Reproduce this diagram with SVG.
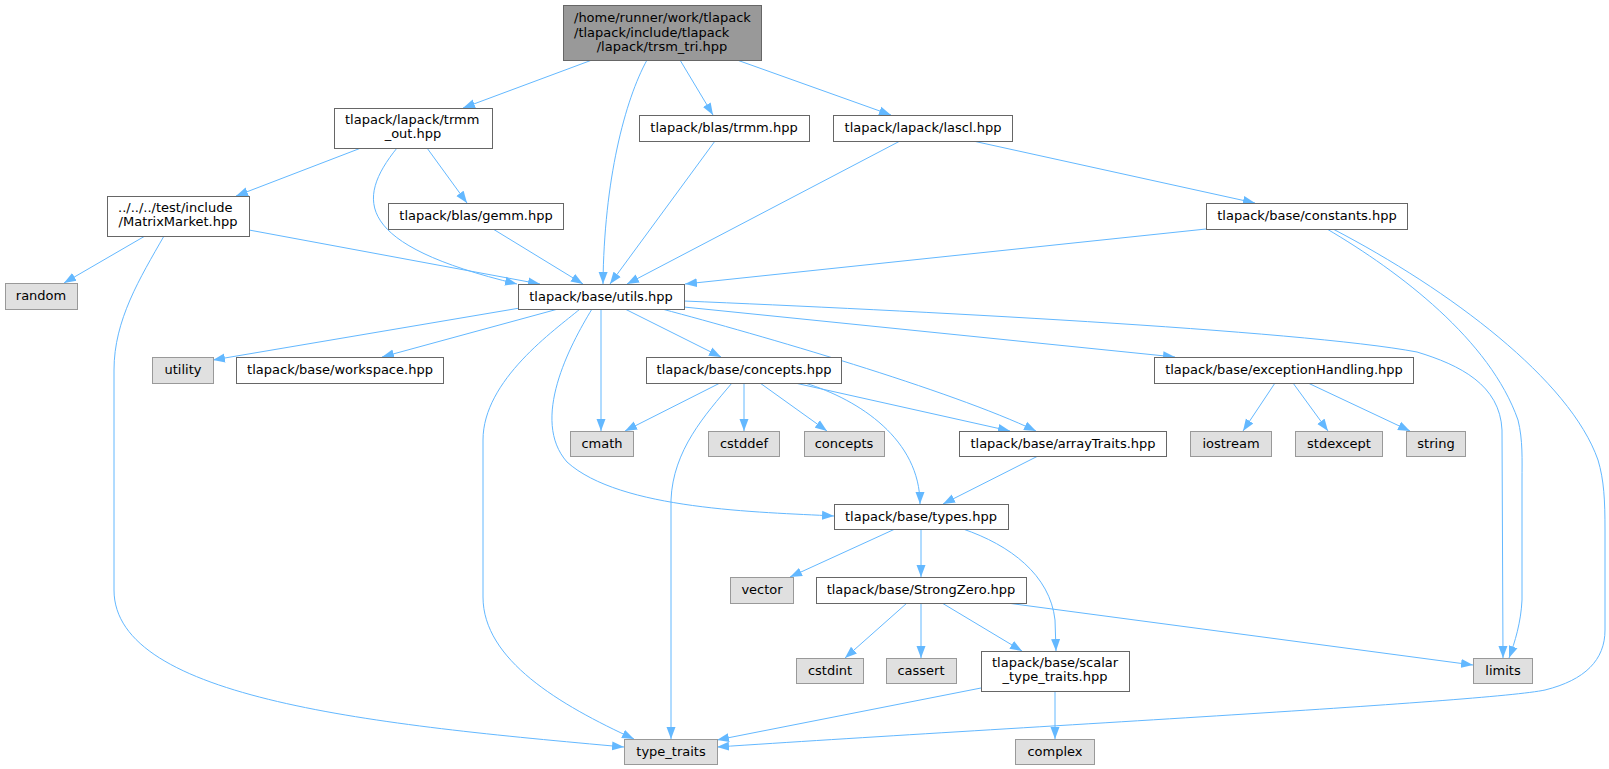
<svg xmlns="http://www.w3.org/2000/svg" width="1609" height="769" viewBox="0 0 1609 769">
<style>
text{font-family:"DejaVu Sans","Liberation Sans",sans-serif;font-size:13px;fill:#000}
.m{text-anchor:middle}
.s{text-anchor:start}
.w{fill:#ffffff;stroke:#666666;stroke-width:1}
.x{fill:#e0e0e0;stroke:#999999;stroke-width:1}
.r{fill:#999999;stroke:#666666;stroke-width:1}
.e path{fill:none;stroke:#63b8ff;stroke-width:1;marker-end:url(#a)}
</style>
<defs>
<marker id="a" markerUnits="userSpaceOnUse" viewBox="0 0 12 10" markerWidth="12" markerHeight="10" refX="12" refY="5" orient="auto">
<path d="M0,0.5 L12,5 L0,9.5 z" fill="#63b8ff"/>
</marker>
</defs>
<rect width="1609" height="769" fill="#ffffff"/>
<g class="e" id="edges">
<path d="M592,60 L463,108"/>
<path d="M647,60 C625,100 604,180 603,284"/>
<path d="M680,60 L713,115"/>
<path d="M737,60 L891,115"/>
<path d="M361,148 L236,196"/>
<path d="M397,148 C355,200 355,245 517,284"/>
<path d="M427,148 L467,203"/>
<path d="M145,236 L64,283"/>
<path d="M164,236 C140,278 114,320 114,370 L114,590 C114,700 380,725 624,747"/>
<path d="M249,230 L540,284"/>
<path d="M493,229 L583,284"/>
<path d="M715,141 L610,284"/>
<path d="M900,141 L627,284"/>
<path d="M973,141 L1255,203"/>
<path d="M1206,229 L685,284"/>
<path d="M1327,229 C1400,272 1490,340 1518,420 C1523,440 1522,460 1522,480 L1522,600 C1521,622 1515,642 1509,658"/>
<path d="M1333,229 C1450,290 1570,380 1598,460 C1604,480 1605,500 1605,530 L1605,630 C1605,660 1585,680 1545,690 C1490,702 1000,728 717,747"/>
<path d="M520,308 L213,360"/>
<path d="M558,309 L382,357"/>
<path d="M580,309 C555,330 483,380 483,440 L483,597 C483,660 560,705 634,739"/>
<path d="M592,309 C570,345 530,420 567,462 C620,510 760,512 834,516"/>
<path d="M601,309 L601,431"/>
<path d="M625,309 L721,357"/>
<path d="M662,309 C760,335 950,390 1036,431"/>
<path d="M684,307 L1175,357"/>
<path d="M684,301 C900,310 1300,330 1417,352 C1460,365 1500,385 1502,430 L1503,658"/>
<path d="M720,383 L625,431"/>
<path d="M732,383 C705,415 673,450 671,500 L671,739"/>
<path d="M744,383 L744,431"/>
<path d="M760,383 L827,431"/>
<path d="M805,383 C860,400 920,440 920,504"/>
<path d="M795,383 L1010,431"/>
<path d="M1038,456 L943,504"/>
<path d="M1275,383 L1243,431"/>
<path d="M1293,383 L1328,431"/>
<path d="M1308,383 L1410,431"/>
<path d="M895,529 L790,577"/>
<path d="M921,529 L921,577"/>
<path d="M963,529 C1010,545 1050,575 1055,620 L1056,651"/>
<path d="M907,603 L845,658"/>
<path d="M921,603 L921,658"/>
<path d="M942,603 L1022,651"/>
<path d="M1007,603 L1473,665"/>
<path d="M981,688 L717,740"/>
<path d="M1055,691 L1055,739"/>
</g>
<g id="root"><rect class="r" x="563.5" y="5.5" width="198" height="55"/><text class="s" x="574" y="22">/home/runner/work/tlapack</text><text class="s" x="574" y="37">/tlapack/include/tlapack</text><text class="m" x="662" y="51">/lapack/trsm_tri.hpp</text></g>
<g id="trmm_out"><rect class="w" x="334.5" y="108.5" width="158" height="40"/><text class="s" x="345" y="124">tlapack/lapack/trmm</text><text class="m" x="413" y="138">_out.hpp</text></g>
<g id="blas_trmm"><rect class="w" x="639.5" y="115.5" width="170" height="26"/><text class="m" x="724" y="132">tlapack/blas/trmm.hpp</text></g>
<g id="lascl"><rect class="w" x="833.5" y="115.5" width="179" height="26"/><text class="m" x="923" y="132">tlapack/lapack/lascl.hpp</text></g>
<g id="matrixmarket"><rect class="w" x="107.5" y="196.5" width="142" height="40"/><text class="s" x="118" y="212">../../../test/include</text><text class="m" x="178" y="226">/MatrixMarket.hpp</text></g>
<g id="gemm"><rect class="w" x="388.5" y="203.5" width="175" height="26"/><text class="m" x="476" y="220">tlapack/blas/gemm.hpp</text></g>
<g id="constants"><rect class="w" x="1206.5" y="203.5" width="201" height="26"/><text class="m" x="1307" y="220">tlapack/base/constants.hpp</text></g>
<g id="random"><rect class="x" x="5.5" y="283.5" width="72" height="26"/><text class="m" x="41" y="300">random</text></g>
<g id="utils"><rect class="w" x="518.5" y="284.5" width="166" height="25"/><text class="m" x="601" y="301">tlapack/base/utils.hpp</text></g>
<g id="utility"><rect class="x" x="152.5" y="357.5" width="61" height="26"/><text class="m" x="183" y="374">utility</text></g>
<g id="workspace"><rect class="w" x="236.5" y="357.5" width="207" height="26"/><text class="m" x="340" y="374">tlapack/base/workspace.hpp</text></g>
<g id="concepts_hpp"><rect class="w" x="646.5" y="357.5" width="195" height="26"/><text class="m" x="744" y="374">tlapack/base/concepts.hpp</text></g>
<g id="exceptionHandling"><rect class="w" x="1154.5" y="357.5" width="259" height="26"/><text class="m" x="1284" y="374">tlapack/base/exceptionHandling.hpp</text></g>
<g id="cmath"><rect class="x" x="570.5" y="431.5" width="63" height="25"/><text class="m" x="602" y="448">cmath</text></g>
<g id="cstddef"><rect class="x" x="708.5" y="431.5" width="71" height="25"/><text class="m" x="744" y="448">cstddef</text></g>
<g id="concepts"><rect class="x" x="804.5" y="431.5" width="80" height="25"/><text class="m" x="844" y="448">concepts</text></g>
<g id="arrayTraits"><rect class="w" x="959.5" y="431.5" width="207" height="25"/><text class="m" x="1063" y="448">tlapack/base/arrayTraits.hpp</text></g>
<g id="iostream"><rect class="x" x="1190.5" y="431.5" width="81" height="25"/><text class="m" x="1231" y="448">iostream</text></g>
<g id="stdexcept"><rect class="x" x="1295.5" y="431.5" width="87" height="25"/><text class="m" x="1339" y="448">stdexcept</text></g>
<g id="string"><rect class="x" x="1406.5" y="431.5" width="59" height="25"/><text class="m" x="1436" y="448">string</text></g>
<g id="types"><rect class="w" x="834.5" y="504.5" width="174" height="25"/><text class="m" x="921" y="521">tlapack/base/types.hpp</text></g>
<g id="vector"><rect class="x" x="730.5" y="577.5" width="63" height="26"/><text class="m" x="762" y="594">vector</text></g>
<g id="strongzero"><rect class="w" x="816.5" y="577.5" width="210" height="26"/><text class="m" x="921" y="594">tlapack/base/StrongZero.hpp</text></g>
<g id="cstdint"><rect class="x" x="796.5" y="658.5" width="67" height="25"/><text class="m" x="830" y="675">cstdint</text></g>
<g id="cassert"><rect class="x" x="886.5" y="658.5" width="70" height="25"/><text class="m" x="921" y="675">cassert</text></g>
<g id="scalar"><rect class="w" x="981.5" y="651.5" width="148" height="40"/><text class="s" x="992" y="667">tlapack/base/scalar</text><text class="m" x="1055" y="681">_type_traits.hpp</text></g>
<g id="limits"><rect class="x" x="1473.5" y="658.5" width="59" height="25"/><text class="m" x="1503" y="675">limits</text></g>
<g id="type_traits"><rect class="x" x="624.5" y="739.5" width="93" height="25"/><text class="m" x="671" y="756">type_traits</text></g>
<g id="complex"><rect class="x" x="1015.5" y="739.5" width="79" height="25"/><text class="m" x="1055" y="756">complex</text></g>
</svg>
